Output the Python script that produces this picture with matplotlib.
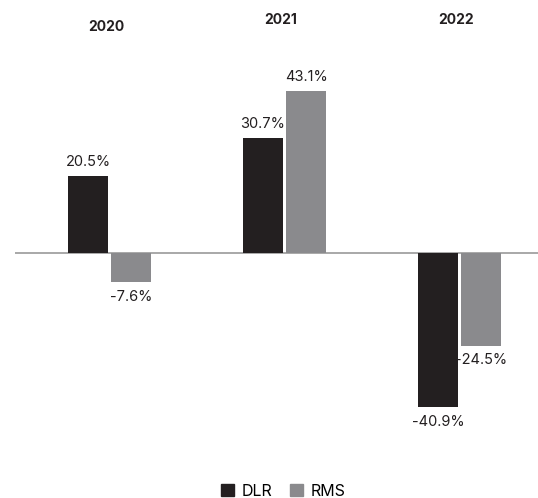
import matplotlib.pyplot as plt
from matplotlib.patches import Patch

years = ['2020', '2021', '2022']
dlr = [20.5, 30.7, -40.9]
rms = [-7.6, 43.1, -24.5]

DLR_COLOR = '#231f20'
RMS_COLOR = '#8a8a8d'

plt.rcParams['font.family'] = ['Inter', 'DejaVu Sans']

W, H = 538, 498
fig = plt.figure(figsize=(W / 100, H / 100), dpi=100)

# axes spans pixel x 15..538, full height; 1 x-unit = 175 px, 3.76 px per %
left_px, zero_px, unit = 15, 253.5, 175.0
ppy = 3.76
ax = fig.add_axes([left_px / W, 0, 1 - left_px / W, 1])
ax.set_xlim(-(109.5 - left_px) / unit, (W - 109.5) / unit)
ax.set_ylim(-(H - zero_px) / ppy, zero_px / ppy)
ax.axis('off')

bw = 40 / unit
off = 21.5 / unit
x = range(len(years))
xd = [i - off for i in x]
xr = [i + off for i in x]

ax.bar(xd, dlr, width=bw, color=DLR_COLOR, zorder=2)
ax.bar(xr, rms, width=bw, color=RMS_COLOR, zorder=2)
ax.axhline(0, color='#9a9a9a', lw=1.2, zorder=1)

pad = 14.5 / ppy
for xs, vals in ((xd, dlr), (xr, rms)):
    for xi, v in zip(xs, vals):
        y = v + pad if v >= 0 else v - pad
        ax.text(xi, y, f'{v:.1f}%', ha='center', va='center',
                fontsize=10.5, color='#231f20')

# year headers
year_y = [(253.5 - 27) / ppy, (253.5 - 20) / ppy, (253.5 - 20) / ppy]
for i, (yr, yy) in enumerate(zip(years, year_y)):
    ax.text(i - 3.5 / unit, yy, yr, ha='center', va='center',
            fontsize=10, fontweight='bold', color='#231f20')

handles = [Patch(color=DLR_COLOR, label='DLR'), Patch(color=RMS_COLOR, label='RMS')]
fig.legend(handles=handles, loc='center', bbox_to_anchor=(0.527, 1 - 491 / H),
           ncol=2, frameon=False, fontsize=11.5, handlelength=0.8,
           handleheight=0.8, handletextpad=0.5, columnspacing=1.1)

fig.savefig('out.png', dpi=100)
